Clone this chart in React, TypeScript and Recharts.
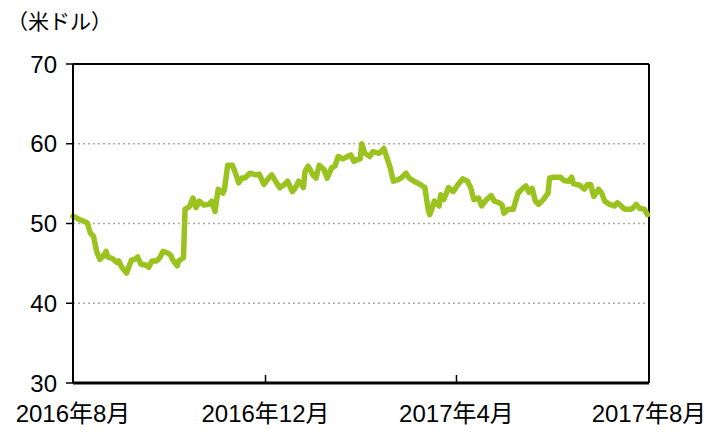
import React from "react";
import {
  LineChart,
  Line,
  XAxis,
  YAxis,
  CartesianGrid,
  ReferenceLine,
} from "recharts";

// days since 2016-08-01
const days = [
  0, 4, 9, 11, 13, 15, 17, 19, 21, 22, 25, 28, 29, 31, 33, 34, 36, 37, 39, 41,
  43, 46, 48, 50, 53, 55, 57, 60, 62, 63, 66, 67, 70, 71, 73, 74, 76, 78, 80,
  83, 86, 88, 90, 92, 95, 96, 98, 101, 103, 105, 107, 109, 112, 116, 118, 121,
  124, 126, 129, 131, 134, 136, 139, 141, 143, 145, 146, 147, 149, 152, 154,
  156, 159, 161, 164, 166, 168, 171, 174, 176, 178, 180, 182, 183, 185, 188,
  190, 194, 197, 199, 201, 203, 206, 208, 211, 213, 216, 218, 220, 223, 225,
  226, 228, 229, 232, 233, 235, 238, 241, 244, 247, 250, 252, 254, 257, 259,
  262, 265, 267, 270, 272, 273, 276, 279, 282, 285, 287, 289, 291, 293, 295,
  298, 301, 302, 305, 309, 311, 314, 316, 317, 321, 324, 326, 328, 330, 333,
  335, 337, 340, 343, 345, 349, 350, 354, 357, 359, 362, 364,
];

// US$ per barrel
const prices = [
  50.9, 50.5, 50.1, 48.8, 48.4, 46.5, 45.5, 45.9, 46.5, 45.8, 45.6, 45.1, 45.3,
  44.5, 44.0, 43.8, 44.9, 45.4, 45.5, 45.8, 44.9, 44.8, 44.5, 45.3, 45.3, 45.7,
  46.5, 46.3, 46.0, 45.5, 44.7, 45.3, 45.7, 51.8, 52.0, 52.2, 53.2, 52.0, 52.8,
  52.3, 52.4, 52.8, 51.5, 54.3, 53.8, 54.3, 57.3, 57.3, 56.3, 55.1, 55.7, 55.7,
  56.3, 56.1, 56.2, 54.9, 55.7, 56.1, 55.1, 54.5, 54.9, 55.3, 54.0, 54.5, 55.3,
  54.9, 54.5, 56.5, 57.2, 56.1, 55.7, 57.3, 56.8, 55.7, 57.0, 57.2, 58.4, 58.1,
  58.4, 58.6, 57.8, 58.0, 58.1, 60.0, 58.8, 58.4, 59.0, 58.8, 59.4, 58.2, 57.0,
  55.3, 55.5, 55.7, 56.3, 55.7, 55.3, 55.1, 54.9, 54.5, 51.8, 51.1, 52.2, 52.8,
  52.2, 53.6, 53.0, 54.5, 54.0, 54.9, 55.6, 55.3, 54.5, 53.0, 53.2, 52.2, 53.0,
  53.5, 52.8, 52.6, 52.3, 51.3, 51.8, 51.8, 53.8, 54.4, 54.7, 53.9, 54.4, 52.8,
  52.4, 53.0, 53.8, 55.7, 55.8, 55.8, 55.4, 55.3, 55.8, 55.0, 54.8, 54.3, 54.9,
  54.9, 53.4, 54.3, 53.8, 52.8, 52.4, 52.2, 52.6, 51.9, 51.8, 51.8, 52.4, 51.9,
  51.8, 51.1,
];

const tickDays = [0, 122, 243, 365];
const tickLabels = ["2016年8月", "2016年12月", "2017年4月", "2017年8月"];
const yTicks = [30, 40, 50, 60, 70];

const data = days.map((d, i) => ({ day: d, price: prices[i] }));

const FONT = '"Liberation Sans", Arial, "Noto Sans CJK JP", sans-serif';

function XTick(props: any) {
  const { x, y, payload } = props;
  const idx = tickDays.indexOf(payload.value);
  return (
    <g>
      <line x1={x} x2={x} y1={y} y2={y - 8} stroke="#000" strokeWidth={1.5} />
      <text
        x={x}
        y={y + 39}
        textAnchor="middle"
        fontSize={24}
        fontFamily={FONT}
        fill="#000"
      >
        {tickLabels[idx]}
      </text>
    </g>
  );
}

export default function App() {
  return (
    <div
      style={{
        position: "absolute",
        left: 0,
        top: 0,
        width: 717,
        height: 430,
        background: "#fff",
        fontFamily: FONT,
      }}
    >
      <div
        style={{
          position: "absolute",
          left: 7,
          top: 5,
          fontSize: 21,
          color: "#000",
        }}
      >
        （米ドル）
      </div>
      <LineChart
        width={717}
        height={430}
        data={data}
        margin={{ top: 64, right: 68, bottom: 0, left: 0 }}
      >
        <CartesianGrid
          vertical={false}
          stroke="#aaa"
          strokeDasharray="2 3"
          strokeWidth={1.5}
        />
        <XAxis
          dataKey="day"
          type="number"
          domain={[0, 365]}
          ticks={tickDays}
          interval={0}
          height={47}
          tickLine={false}
          tickSize={0}
          tickMargin={0}
          tick={<XTick />}
          axisLine={{ stroke: "#000", strokeWidth: 3 }}
        />
        <YAxis
          type="number"
          domain={[30, 70]}
          ticks={yTicks}
          interval={0}
          width={73}
          tickSize={7}
          tickMargin={9}
          tick={{ fill: "#000", fontSize: 24, fontFamily: FONT }}
          tickLine={{ stroke: "#000", strokeWidth: 1.5 }}
          axisLine={{ stroke: "#000", strokeWidth: 2 }}
        />
        <ReferenceLine y={70} stroke="#000" strokeWidth={2} />
        <ReferenceLine x={365} stroke="#000" strokeWidth={2} />
        <Line
          type="linear"
          dataKey="price"
          stroke="#9bc31f"
          strokeWidth={5.5}
          strokeLinejoin="round"
          strokeLinecap="round"
          dot={false}
          isAnimationActive={false}
        />
      </LineChart>
    </div>
  );
}
